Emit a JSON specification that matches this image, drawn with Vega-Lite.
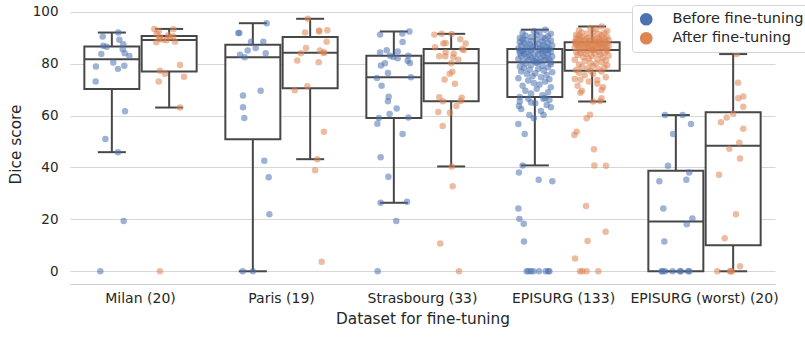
{
"$schema": "https://vega.github.io/schema/vega-lite/v6.json",
"width": 705, "height": 280,
"autosize": {"type": "none"},
"padding": {"left": 70, "top": 4, "right": 30, "bottom": 54},
"background": "white",
"config": {"view": {"stroke": null}, "font": "DejaVu Sans"},
"datasets": {
"d": [
{"g":"Milan (20)","h":"Before fine-tuning","v":92.0,"p":-0.157},
{"g":"Milan (20)","h":"Before fine-tuning","v":90.5,"p":-0.268},
{"g":"Milan (20)","h":"Before fine-tuning","v":89.2,"p":-0.150},
{"g":"Milan (20)","h":"Before fine-tuning","v":87.5,"p":-0.122},
{"g":"Milan (20)","h":"Before fine-tuning","v":86.9,"p":-0.264},
{"g":"Milan (20)","h":"Before fine-tuning","v":86.5,"p":-0.240},
{"g":"Milan (20)","h":"Before fine-tuning","v":85.6,"p":-0.126},
{"g":"Milan (20)","h":"Before fine-tuning","v":84.0,"p":-0.112},
{"g":"Milan (20)","h":"Before fine-tuning","v":83.7,"p":-0.278},
{"g":"Milan (20)","h":"Before fine-tuning","v":83.0,"p":-0.079},
{"g":"Milan (20)","h":"Before fine-tuning","v":80.5,"p":-0.193},
{"g":"Milan (20)","h":"Before fine-tuning","v":79.2,"p":-0.115},
{"g":"Milan (20)","h":"Before fine-tuning","v":78.9,"p":-0.316},
{"g":"Milan (20)","h":"Before fine-tuning","v":78.0,"p":-0.160},
{"g":"Milan (20)","h":"Before fine-tuning","v":73.1,"p":-0.318},
{"g":"Milan (20)","h":"Before fine-tuning","v":61.7,"p":-0.110},
{"g":"Milan (20)","h":"Before fine-tuning","v":51.0,"p":-0.249},
{"g":"Milan (20)","h":"Before fine-tuning","v":45.9,"p":-0.160},
{"g":"Milan (20)","h":"Before fine-tuning","v":19.4,"p":-0.119},
{"g":"Milan (20)","h":"Before fine-tuning","v":0,"p":-0.285},
{"g":"Milan (20)","h":"After fine-tuning","v":93.4,"p":0.098},
{"g":"Milan (20)","h":"After fine-tuning","v":93.3,"p":0.233},
{"g":"Milan (20)","h":"After fine-tuning","v":92.5,"p":0.129},
{"g":"Milan (20)","h":"After fine-tuning","v":91.5,"p":0.115},
{"g":"Milan (20)","h":"After fine-tuning","v":91.0,"p":0.197},
{"g":"Milan (20)","h":"After fine-tuning","v":90.5,"p":0.233},
{"g":"Milan (20)","h":"After fine-tuning","v":90.3,"p":0.138},
{"g":"Milan (20)","h":"After fine-tuning","v":90.2,"p":0.209},
{"g":"Milan (20)","h":"After fine-tuning","v":89.5,"p":0.131},
{"g":"Milan (20)","h":"After fine-tuning","v":89.2,"p":0.160},
{"g":"Milan (20)","h":"After fine-tuning","v":89.0,"p":0.185},
{"g":"Milan (20)","h":"After fine-tuning","v":88.5,"p":0.245},
{"g":"Milan (20)","h":"After fine-tuning","v":88.3,"p":0.112},
{"g":"Milan (20)","h":"After fine-tuning","v":79.5,"p":0.280},
{"g":"Milan (20)","h":"After fine-tuning","v":77.3,"p":0.138},
{"g":"Milan (20)","h":"After fine-tuning","v":76.1,"p":0.174},
{"g":"Milan (20)","h":"After fine-tuning","v":75.0,"p":0.309},
{"g":"Milan (20)","h":"After fine-tuning","v":73.1,"p":0.129},
{"g":"Milan (20)","h":"After fine-tuning","v":63.1,"p":0.280},
{"g":"Milan (20)","h":"After fine-tuning","v":0,"p":0.138},
{"g":"Paris (19)","h":"Before fine-tuning","v":95.6,"p":0.895},
{"g":"Paris (19)","h":"Before fine-tuning","v":91.8,"p":0.694},
{"g":"Paris (19)","h":"Before fine-tuning","v":91.8,"p":0.701},
{"g":"Paris (19)","h":"Before fine-tuning","v":88.5,"p":0.784},
{"g":"Paris (19)","h":"Before fine-tuning","v":88.5,"p":0.871},
{"g":"Paris (19)","h":"Before fine-tuning","v":86.0,"p":0.817},
{"g":"Paris (19)","h":"Before fine-tuning","v":85.1,"p":0.760},
{"g":"Paris (19)","h":"Before fine-tuning","v":84.0,"p":0.888},
{"g":"Paris (19)","h":"Before fine-tuning","v":83.4,"p":0.706},
{"g":"Paris (19)","h":"Before fine-tuning","v":82.5,"p":0.739},
{"g":"Paris (19)","h":"Before fine-tuning","v":69.6,"p":0.852},
{"g":"Paris (19)","h":"Before fine-tuning","v":67.7,"p":0.727},
{"g":"Paris (19)","h":"Before fine-tuning","v":63.2,"p":0.727},
{"g":"Paris (19)","h":"Before fine-tuning","v":59.1,"p":0.736},
{"g":"Paris (19)","h":"Before fine-tuning","v":42.6,"p":0.878},
{"g":"Paris (19)","h":"Before fine-tuning","v":36.2,"p":0.909},
{"g":"Paris (19)","h":"Before fine-tuning","v":22.0,"p":0.914},
{"g":"Paris (19)","h":"Before fine-tuning","v":0,"p":0.725},
{"g":"Paris (19)","h":"Before fine-tuning","v":0,"p":0.798},
{"g":"Paris (19)","h":"After fine-tuning","v":97.3,"p":1.186},
{"g":"Paris (19)","h":"After fine-tuning","v":92.0,"p":1.167},
{"g":"Paris (19)","h":"After fine-tuning","v":92.8,"p":1.266},
{"g":"Paris (19)","h":"After fine-tuning","v":92.4,"p":1.268},
{"g":"Paris (19)","h":"After fine-tuning","v":92.9,"p":1.325},
{"g":"Paris (19)","h":"After fine-tuning","v":88.5,"p":1.320},
{"g":"Paris (19)","h":"After fine-tuning","v":86.0,"p":1.174},
{"g":"Paris (19)","h":"After fine-tuning","v":84.0,"p":1.138},
{"g":"Paris (19)","h":"After fine-tuning","v":85.1,"p":1.273},
{"g":"Paris (19)","h":"After fine-tuning","v":84.3,"p":1.304},
{"g":"Paris (19)","h":"After fine-tuning","v":81.2,"p":1.112},
{"g":"Paris (19)","h":"After fine-tuning","v":80.6,"p":1.264},
{"g":"Paris (19)","h":"After fine-tuning","v":69.8,"p":1.094},
{"g":"Paris (19)","h":"After fine-tuning","v":71.3,"p":1.183},
{"g":"Paris (19)","h":"After fine-tuning","v":53.8,"p":1.301},
{"g":"Paris (19)","h":"After fine-tuning","v":43.2,"p":1.254},
{"g":"Paris (19)","h":"After fine-tuning","v":38.9,"p":1.238},
{"g":"Paris (19)","h":"After fine-tuning","v":3.7,"p":1.285},
{"g":"Paris (19)","h":"After fine-tuning","v":84.2,"p":1.297},
{"g":"Strasbourg (33)","h":"Before fine-tuning","v":91.2,"p":1.699},
{"g":"Strasbourg (33)","h":"Before fine-tuning","v":91.6,"p":1.857},
{"g":"Strasbourg (33)","h":"Before fine-tuning","v":92.4,"p":1.907},
{"g":"Strasbourg (33)","h":"Before fine-tuning","v":88.4,"p":1.859},
{"g":"Strasbourg (33)","h":"Before fine-tuning","v":84.3,"p":1.699},
{"g":"Strasbourg (33)","h":"Before fine-tuning","v":85.2,"p":1.746},
{"g":"Strasbourg (33)","h":"Before fine-tuning","v":84.7,"p":1.824},
{"g":"Strasbourg (33)","h":"Before fine-tuning","v":83.1,"p":1.770},
{"g":"Strasbourg (33)","h":"Before fine-tuning","v":82.6,"p":1.793},
{"g":"Strasbourg (33)","h":"Before fine-tuning","v":82.1,"p":1.824},
{"g":"Strasbourg (33)","h":"Before fine-tuning","v":83.1,"p":1.900},
{"g":"Strasbourg (33)","h":"Before fine-tuning","v":81.1,"p":1.895},
{"g":"Strasbourg (33)","h":"Before fine-tuning","v":80.3,"p":1.911},
{"g":"Strasbourg (33)","h":"Before fine-tuning","v":80.2,"p":1.734},
{"g":"Strasbourg (33)","h":"Before fine-tuning","v":79.3,"p":1.705},
{"g":"Strasbourg (33)","h":"Before fine-tuning","v":76.4,"p":1.755},
{"g":"Strasbourg (33)","h":"Before fine-tuning","v":74.5,"p":1.677},
{"g":"Strasbourg (33)","h":"Before fine-tuning","v":74.8,"p":1.918},
{"g":"Strasbourg (33)","h":"Before fine-tuning","v":71.5,"p":1.710},
{"g":"Strasbourg (33)","h":"Before fine-tuning","v":67.3,"p":1.760},
{"g":"Strasbourg (33)","h":"Before fine-tuning","v":65.5,"p":1.755},
{"g":"Strasbourg (33)","h":"Before fine-tuning","v":62.7,"p":1.817},
{"g":"Strasbourg (33)","h":"Before fine-tuning","v":60.6,"p":1.767},
{"g":"Strasbourg (33)","h":"Before fine-tuning","v":59.1,"p":1.691},
{"g":"Strasbourg (33)","h":"Before fine-tuning","v":59.3,"p":1.900},
{"g":"Strasbourg (33)","h":"Before fine-tuning","v":56.9,"p":1.680},
{"g":"Strasbourg (33)","h":"Before fine-tuning","v":52.9,"p":1.859},
{"g":"Strasbourg (33)","h":"Before fine-tuning","v":43.9,"p":1.703},
{"g":"Strasbourg (33)","h":"Before fine-tuning","v":36.4,"p":1.758},
{"g":"Strasbourg (33)","h":"Before fine-tuning","v":26.4,"p":1.703},
{"g":"Strasbourg (33)","h":"Before fine-tuning","v":26.8,"p":1.890},
{"g":"Strasbourg (33)","h":"Before fine-tuning","v":19.4,"p":1.814},
{"g":"Strasbourg (33)","h":"Before fine-tuning","v":0,"p":1.682},
{"g":"Strasbourg (33)","h":"After fine-tuning","v":91.2,"p":2.084},
{"g":"Strasbourg (33)","h":"After fine-tuning","v":91.5,"p":2.136},
{"g":"Strasbourg (33)","h":"After fine-tuning","v":91.4,"p":2.207},
{"g":"Strasbourg (33)","h":"After fine-tuning","v":89.4,"p":2.268},
{"g":"Strasbourg (33)","h":"After fine-tuning","v":87.8,"p":2.306},
{"g":"Strasbourg (33)","h":"After fine-tuning","v":87.8,"p":2.148},
{"g":"Strasbourg (33)","h":"After fine-tuning","v":88.0,"p":2.164},
{"g":"Strasbourg (33)","h":"After fine-tuning","v":86.3,"p":2.089},
{"g":"Strasbourg (33)","h":"After fine-tuning","v":85.3,"p":2.292},
{"g":"Strasbourg (33)","h":"After fine-tuning","v":85.7,"p":2.282},
{"g":"Strasbourg (33)","h":"After fine-tuning","v":84.4,"p":2.164},
{"g":"Strasbourg (33)","h":"After fine-tuning","v":83.9,"p":2.221},
{"g":"Strasbourg (33)","h":"After fine-tuning","v":82.9,"p":2.119},
{"g":"Strasbourg (33)","h":"After fine-tuning","v":82.9,"p":2.162},
{"g":"Strasbourg (33)","h":"After fine-tuning","v":82.5,"p":2.219},
{"g":"Strasbourg (33)","h":"After fine-tuning","v":81.5,"p":2.254},
{"g":"Strasbourg (33)","h":"After fine-tuning","v":80.2,"p":2.204},
{"g":"Strasbourg (33)","h":"After fine-tuning","v":76.9,"p":2.212},
{"g":"Strasbourg (33)","h":"After fine-tuning","v":76.1,"p":2.193},
{"g":"Strasbourg (33)","h":"After fine-tuning","v":73.9,"p":2.157},
{"g":"Strasbourg (33)","h":"After fine-tuning","v":72.3,"p":2.230},
{"g":"Strasbourg (33)","h":"After fine-tuning","v":67.1,"p":2.119},
{"g":"Strasbourg (33)","h":"After fine-tuning","v":65.5,"p":2.145},
{"g":"Strasbourg (33)","h":"After fine-tuning","v":66.9,"p":2.278},
{"g":"Strasbourg (33)","h":"After fine-tuning","v":65.6,"p":2.270},
{"g":"Strasbourg (33)","h":"After fine-tuning","v":63.7,"p":2.240},
{"g":"Strasbourg (33)","h":"After fine-tuning","v":61.4,"p":2.112},
{"g":"Strasbourg (33)","h":"After fine-tuning","v":61.1,"p":2.195},
{"g":"Strasbourg (33)","h":"After fine-tuning","v":56.0,"p":2.143},
{"g":"Strasbourg (33)","h":"After fine-tuning","v":40.4,"p":2.207},
{"g":"Strasbourg (33)","h":"After fine-tuning","v":32.8,"p":2.214},
{"g":"Strasbourg (33)","h":"After fine-tuning","v":10.7,"p":2.126},
{"g":"Strasbourg (33)","h":"After fine-tuning","v":0,"p":2.259},
{"g":"EPISURG (133)","h":"Before fine-tuning","v":0,"p":2.739},
{"g":"EPISURG (133)","h":"Before fine-tuning","v":0,"p":2.751},
{"g":"EPISURG (133)","h":"Before fine-tuning","v":0,"p":2.770},
{"g":"EPISURG (133)","h":"Before fine-tuning","v":0,"p":2.786},
{"g":"EPISURG (133)","h":"Before fine-tuning","v":0,"p":2.826},
{"g":"EPISURG (133)","h":"Before fine-tuning","v":0,"p":2.874},
{"g":"EPISURG (133)","h":"Before fine-tuning","v":0,"p":2.892},
{"g":"EPISURG (133)","h":"Before fine-tuning","v":0,"p":2.900},
{"g":"EPISURG (133)","h":"Before fine-tuning","v":11.5,"p":2.720},
{"g":"EPISURG (133)","h":"Before fine-tuning","v":18.3,"p":2.718},
{"g":"EPISURG (133)","h":"Before fine-tuning","v":20.2,"p":2.687},
{"g":"EPISURG (133)","h":"Before fine-tuning","v":24.2,"p":2.680},
{"g":"EPISURG (133)","h":"Before fine-tuning","v":34.7,"p":2.921},
{"g":"EPISURG (133)","h":"Before fine-tuning","v":35.3,"p":2.824},
{"g":"EPISURG (133)","h":"Before fine-tuning","v":38.1,"p":2.684},
{"g":"EPISURG (133)","h":"Before fine-tuning","v":40.8,"p":2.710},
{"g":"EPISURG (133)","h":"Before fine-tuning","v":52.9,"p":2.725},
{"g":"EPISURG (133)","h":"Before fine-tuning","v":56.8,"p":2.680},
{"g":"EPISURG (133)","h":"Before fine-tuning","v":60.2,"p":2.758},
{"g":"EPISURG (133)","h":"Before fine-tuning","v":60.2,"p":2.859},
{"g":"EPISURG (133)","h":"Before fine-tuning","v":63.2,"p":2.911},
{"g":"EPISURG (133)","h":"Before fine-tuning","v":63.7,"p":2.684},
{"g":"EPISURG (133)","h":"Before fine-tuning","v":64.1,"p":2.881},
{"g":"EPISURG (133)","h":"Before fine-tuning","v":65.4,"p":2.690},
{"g":"EPISURG (133)","h":"Before fine-tuning","v":66.0,"p":2.900},
{"g":"EPISURG (133)","h":"Before fine-tuning","v":66.5,"p":2.751},
{"g":"EPISURG (133)","h":"Before fine-tuning","v":66.5,"p":2.857},
{"g":"EPISURG (133)","h":"Before fine-tuning","v":59.0,"p":2.79},
{"g":"EPISURG (133)","h":"Before fine-tuning","v":61.8,"p":2.84},
{"g":"EPISURG (133)","h":"Before fine-tuning","v":62.5,"p":2.70},
{"g":"EPISURG (133)","h":"Before fine-tuning","v":64.8,"p":2.80},
{"g":"EPISURG (133)","h":"Before fine-tuning","v":65.0,"p":2.77},
{"g":"EPISURG (133)","h":"Before fine-tuning","v":66.8,"p":2.87},
{"g":"EPISURG (133)","h":"Before fine-tuning","v":67.2,"p":2.69},
{"g":"EPISURG (133)","h":"Before fine-tuning","v":67.8,"p":2.85},
{"g":"EPISURG (133)","h":"Before fine-tuning","v":68.5,"p":2.77},
{"g":"EPISURG (133)","h":"Before fine-tuning","v":69.0,"p":2.89},
{"g":"EPISURG (133)","h":"Before fine-tuning","v":69.6,"p":2.73},
{"g":"EPISURG (133)","h":"Before fine-tuning","v":70.3,"p":2.81},
{"g":"EPISURG (133)","h":"Before fine-tuning","v":70.9,"p":2.91},
{"g":"EPISURG (133)","h":"Before fine-tuning","v":71.5,"p":2.71},
{"g":"EPISURG (133)","h":"Before fine-tuning","v":72.0,"p":2.83},
{"g":"EPISURG (133)","h":"Before fine-tuning","v":72.6,"p":2.79},
{"g":"EPISURG (133)","h":"Before fine-tuning","v":73.1,"p":2.87},
{"g":"EPISURG (133)","h":"Before fine-tuning","v":73.5,"p":2.75},
{"g":"EPISURG (133)","h":"Before fine-tuning","v":74.0,"p":2.90},
{"g":"EPISURG (133)","h":"Before fine-tuning","v":74.4,"p":2.68},
{"g":"EPISURG (133)","h":"Before fine-tuning","v":74.8,"p":2.84},
{"g":"EPISURG (133)","h":"Before fine-tuning","v":75.2,"p":2.78},
{"g":"EPISURG (133)","h":"Before fine-tuning","v":75.6,"p":2.88},
{"g":"EPISURG (133)","h":"Before fine-tuning","v":76.0,"p":2.74},
{"g":"EPISURG (133)","h":"Before fine-tuning","v":76.3,"p":2.80},
{"g":"EPISURG (133)","h":"Before fine-tuning","v":76.7,"p":2.92},
{"g":"EPISURG (133)","h":"Before fine-tuning","v":77.0,"p":2.70},
{"g":"EPISURG (133)","h":"Before fine-tuning","v":77.4,"p":2.86},
{"g":"EPISURG (133)","h":"Before fine-tuning","v":77.7,"p":2.76},
{"g":"EPISURG (133)","h":"Before fine-tuning","v":78.0,"p":2.82},
{"g":"EPISURG (133)","h":"Before fine-tuning","v":78.3,"p":2.72},
{"g":"EPISURG (133)","h":"Before fine-tuning","v":78.6,"p":2.89},
{"g":"EPISURG (133)","h":"Before fine-tuning","v":78.9,"p":2.69},
{"g":"EPISURG (133)","h":"Before fine-tuning","v":79.2,"p":2.85},
{"g":"EPISURG (133)","h":"Before fine-tuning","v":79.5,"p":2.77},
{"g":"EPISURG (133)","h":"Before fine-tuning","v":79.8,"p":2.91},
{"g":"EPISURG (133)","h":"Before fine-tuning","v":80.1,"p":2.73},
{"g":"EPISURG (133)","h":"Before fine-tuning","v":80.4,"p":2.81},
{"g":"EPISURG (133)","h":"Before fine-tuning","v":80.5,"p":2.81},
{"g":"EPISURG (133)","h":"Before fine-tuning","v":80.6,"p":2.91},
{"g":"EPISURG (133)","h":"Before fine-tuning","v":80.8,"p":2.71},
{"g":"EPISURG (133)","h":"Before fine-tuning","v":80.9,"p":2.83},
{"g":"EPISURG (133)","h":"Before fine-tuning","v":81.1,"p":2.79},
{"g":"EPISURG (133)","h":"Before fine-tuning","v":81.3,"p":2.87},
{"g":"EPISURG (133)","h":"Before fine-tuning","v":81.4,"p":2.75},
{"g":"EPISURG (133)","h":"Before fine-tuning","v":81.6,"p":2.90},
{"g":"EPISURG (133)","h":"Before fine-tuning","v":81.8,"p":2.68},
{"g":"EPISURG (133)","h":"Before fine-tuning","v":82.0,"p":2.84},
{"g":"EPISURG (133)","h":"Before fine-tuning","v":82.1,"p":2.78},
{"g":"EPISURG (133)","h":"Before fine-tuning","v":82.3,"p":2.88},
{"g":"EPISURG (133)","h":"Before fine-tuning","v":82.5,"p":2.74},
{"g":"EPISURG (133)","h":"Before fine-tuning","v":82.6,"p":2.80},
{"g":"EPISURG (133)","h":"Before fine-tuning","v":82.8,"p":2.92},
{"g":"EPISURG (133)","h":"Before fine-tuning","v":83.0,"p":2.70},
{"g":"EPISURG (133)","h":"Before fine-tuning","v":83.1,"p":2.86},
{"g":"EPISURG (133)","h":"Before fine-tuning","v":83.3,"p":2.76},
{"g":"EPISURG (133)","h":"Before fine-tuning","v":83.5,"p":2.82},
{"g":"EPISURG (133)","h":"Before fine-tuning","v":83.6,"p":2.72},
{"g":"EPISURG (133)","h":"Before fine-tuning","v":83.8,"p":2.89},
{"g":"EPISURG (133)","h":"Before fine-tuning","v":84.0,"p":2.69},
{"g":"EPISURG (133)","h":"Before fine-tuning","v":84.1,"p":2.85},
{"g":"EPISURG (133)","h":"Before fine-tuning","v":84.3,"p":2.77},
{"g":"EPISURG (133)","h":"Before fine-tuning","v":84.5,"p":2.91},
{"g":"EPISURG (133)","h":"Before fine-tuning","v":84.6,"p":2.73},
{"g":"EPISURG (133)","h":"Before fine-tuning","v":84.8,"p":2.81},
{"g":"EPISURG (133)","h":"Before fine-tuning","v":84.9,"p":2.71},
{"g":"EPISURG (133)","h":"Before fine-tuning","v":85.0,"p":2.87},
{"g":"EPISURG (133)","h":"Before fine-tuning","v":85.1,"p":2.69},
{"g":"EPISURG (133)","h":"Before fine-tuning","v":85.2,"p":2.85},
{"g":"EPISURG (133)","h":"Before fine-tuning","v":85.3,"p":2.77},
{"g":"EPISURG (133)","h":"Before fine-tuning","v":85.4,"p":2.89},
{"g":"EPISURG (133)","h":"Before fine-tuning","v":85.6,"p":2.73},
{"g":"EPISURG (133)","h":"Before fine-tuning","v":85.7,"p":2.83},
{"g":"EPISURG (133)","h":"Before fine-tuning","v":85.8,"p":2.90},
{"g":"EPISURG (133)","h":"Before fine-tuning","v":85.9,"p":2.68},
{"g":"EPISURG (133)","h":"Before fine-tuning","v":86.1,"p":2.84},
{"g":"EPISURG (133)","h":"Before fine-tuning","v":86.3,"p":2.78},
{"g":"EPISURG (133)","h":"Before fine-tuning","v":86.4,"p":2.88},
{"g":"EPISURG (133)","h":"Before fine-tuning","v":86.6,"p":2.74},
{"g":"EPISURG (133)","h":"Before fine-tuning","v":86.8,"p":2.80},
{"g":"EPISURG (133)","h":"Before fine-tuning","v":87.0,"p":2.92},
{"g":"EPISURG (133)","h":"Before fine-tuning","v":87.1,"p":2.70},
{"g":"EPISURG (133)","h":"Before fine-tuning","v":87.3,"p":2.86},
{"g":"EPISURG (133)","h":"Before fine-tuning","v":87.5,"p":2.76},
{"g":"EPISURG (133)","h":"Before fine-tuning","v":87.7,"p":2.82},
{"g":"EPISURG (133)","h":"Before fine-tuning","v":87.9,"p":2.72},
{"g":"EPISURG (133)","h":"Before fine-tuning","v":88.1,"p":2.89},
{"g":"EPISURG (133)","h":"Before fine-tuning","v":88.3,"p":2.69},
{"g":"EPISURG (133)","h":"Before fine-tuning","v":88.5,"p":2.85},
{"g":"EPISURG (133)","h":"Before fine-tuning","v":88.7,"p":2.77},
{"g":"EPISURG (133)","h":"Before fine-tuning","v":88.9,"p":2.91},
{"g":"EPISURG (133)","h":"Before fine-tuning","v":89.1,"p":2.73},
{"g":"EPISURG (133)","h":"Before fine-tuning","v":89.3,"p":2.81},
{"g":"EPISURG (133)","h":"Before fine-tuning","v":89.5,"p":2.71},
{"g":"EPISURG (133)","h":"Before fine-tuning","v":89.7,"p":2.87},
{"g":"EPISURG (133)","h":"Before fine-tuning","v":89.9,"p":2.69},
{"g":"EPISURG (133)","h":"Before fine-tuning","v":90.1,"p":2.85},
{"g":"EPISURG (133)","h":"Before fine-tuning","v":90.3,"p":2.77},
{"g":"EPISURG (133)","h":"Before fine-tuning","v":90.6,"p":2.89},
{"g":"EPISURG (133)","h":"Before fine-tuning","v":90.9,"p":2.73},
{"g":"EPISURG (133)","h":"Before fine-tuning","v":91.2,"p":2.81},
{"g":"EPISURG (133)","h":"Before fine-tuning","v":91.5,"p":2.91},
{"g":"EPISURG (133)","h":"Before fine-tuning","v":91.8,"p":2.71},
{"g":"EPISURG (133)","h":"Before fine-tuning","v":92.2,"p":2.83},
{"g":"EPISURG (133)","h":"Before fine-tuning","v":92.6,"p":2.79},
{"g":"EPISURG (133)","h":"Before fine-tuning","v":93.1,"p":2.87},
{"g":"EPISURG (133)","h":"After fine-tuning","v":60.3,"p":3.188},
{"g":"EPISURG (133)","h":"After fine-tuning","v":59.0,"p":3.164},
{"g":"EPISURG (133)","h":"After fine-tuning","v":53.8,"p":3.093},
{"g":"EPISURG (133)","h":"After fine-tuning","v":52.5,"p":3.077},
{"g":"EPISURG (133)","h":"After fine-tuning","v":47.0,"p":3.216},
{"g":"EPISURG (133)","h":"After fine-tuning","v":40.8,"p":3.219},
{"g":"EPISURG (133)","h":"After fine-tuning","v":40.7,"p":3.301},
{"g":"EPISURG (133)","h":"After fine-tuning","v":25.2,"p":3.160},
{"g":"EPISURG (133)","h":"After fine-tuning","v":15.2,"p":3.299},
{"g":"EPISURG (133)","h":"After fine-tuning","v":11.7,"p":3.171},
{"g":"EPISURG (133)","h":"After fine-tuning","v":4.9,"p":3.082},
{"g":"EPISURG (133)","h":"After fine-tuning","v":0,"p":3.117},
{"g":"EPISURG (133)","h":"After fine-tuning","v":0,"p":3.134},
{"g":"EPISURG (133)","h":"After fine-tuning","v":0,"p":3.164},
{"g":"EPISURG (133)","h":"After fine-tuning","v":0,"p":3.247},
{"g":"EPISURG (133)","h":"After fine-tuning","v":65.4,"p":3.21},
{"g":"EPISURG (133)","h":"After fine-tuning","v":65.6,"p":3.26},
{"g":"EPISURG (133)","h":"After fine-tuning","v":66.7,"p":3.27},
{"g":"EPISURG (133)","h":"After fine-tuning","v":68.8,"p":3.12},
{"g":"EPISURG (133)","h":"After fine-tuning","v":69.6,"p":3.13},
{"g":"EPISURG (133)","h":"After fine-tuning","v":69.9,"p":3.27},
{"g":"EPISURG (133)","h":"After fine-tuning","v":70.9,"p":3.28},
{"g":"EPISURG (133)","h":"After fine-tuning","v":71.5,"p":3.10},
{"g":"EPISURG (133)","h":"After fine-tuning","v":72.3,"p":3.24},
{"g":"EPISURG (133)","h":"After fine-tuning","v":73.1,"p":3.18},
{"g":"EPISURG (133)","h":"After fine-tuning","v":73.7,"p":3.24},
{"g":"EPISURG (133)","h":"After fine-tuning","v":73.8,"p":3.12},
{"g":"EPISURG (133)","h":"After fine-tuning","v":74.1,"p":3.08},
{"g":"EPISURG (133)","h":"After fine-tuning","v":74.8,"p":3.30},
{"g":"EPISURG (133)","h":"After fine-tuning","v":75.5,"p":3.15},
{"g":"EPISURG (133)","h":"After fine-tuning","v":76.0,"p":3.21},
{"g":"EPISURG (133)","h":"After fine-tuning","v":76.5,"p":3.11},
{"g":"EPISURG (133)","h":"After fine-tuning","v":77.0,"p":3.27},
{"g":"EPISURG (133)","h":"After fine-tuning","v":77.3,"p":3.19},
{"g":"EPISURG (133)","h":"After fine-tuning","v":77.6,"p":3.09},
{"g":"EPISURG (133)","h":"After fine-tuning","v":77.9,"p":3.25},
{"g":"EPISURG (133)","h":"After fine-tuning","v":78.2,"p":3.17},
{"g":"EPISURG (133)","h":"After fine-tuning","v":78.5,"p":3.29},
{"g":"EPISURG (133)","h":"After fine-tuning","v":78.8,"p":3.13},
{"g":"EPISURG (133)","h":"After fine-tuning","v":79.1,"p":3.21},
{"g":"EPISURG (133)","h":"After fine-tuning","v":79.4,"p":3.31},
{"g":"EPISURG (133)","h":"After fine-tuning","v":79.7,"p":3.11},
{"g":"EPISURG (133)","h":"After fine-tuning","v":80.0,"p":3.23},
{"g":"EPISURG (133)","h":"After fine-tuning","v":80.3,"p":3.19},
{"g":"EPISURG (133)","h":"After fine-tuning","v":80.6,"p":3.27},
{"g":"EPISURG (133)","h":"After fine-tuning","v":80.9,"p":3.15},
{"g":"EPISURG (133)","h":"After fine-tuning","v":81.2,"p":3.30},
{"g":"EPISURG (133)","h":"After fine-tuning","v":81.5,"p":3.08},
{"g":"EPISURG (133)","h":"After fine-tuning","v":81.8,"p":3.24},
{"g":"EPISURG (133)","h":"After fine-tuning","v":82.1,"p":3.18},
{"g":"EPISURG (133)","h":"After fine-tuning","v":82.4,"p":3.28},
{"g":"EPISURG (133)","h":"After fine-tuning","v":82.6,"p":3.14},
{"g":"EPISURG (133)","h":"After fine-tuning","v":82.9,"p":3.20},
{"g":"EPISURG (133)","h":"After fine-tuning","v":83.1,"p":3.32},
{"g":"EPISURG (133)","h":"After fine-tuning","v":83.3,"p":3.10},
{"g":"EPISURG (133)","h":"After fine-tuning","v":83.5,"p":3.26},
{"g":"EPISURG (133)","h":"After fine-tuning","v":83.7,"p":3.16},
{"g":"EPISURG (133)","h":"After fine-tuning","v":83.9,"p":3.22},
{"g":"EPISURG (133)","h":"After fine-tuning","v":84.1,"p":3.12},
{"g":"EPISURG (133)","h":"After fine-tuning","v":84.3,"p":3.29},
{"g":"EPISURG (133)","h":"After fine-tuning","v":84.5,"p":3.09},
{"g":"EPISURG (133)","h":"After fine-tuning","v":84.6,"p":3.25},
{"g":"EPISURG (133)","h":"After fine-tuning","v":84.8,"p":3.17},
{"g":"EPISURG (133)","h":"After fine-tuning","v":84.9,"p":3.31},
{"g":"EPISURG (133)","h":"After fine-tuning","v":85.1,"p":3.13},
{"g":"EPISURG (133)","h":"After fine-tuning","v":85.2,"p":3.21},
{"g":"EPISURG (133)","h":"After fine-tuning","v":85.3,"p":3.20},
{"g":"EPISURG (133)","h":"After fine-tuning","v":85.4,"p":3.21},
{"g":"EPISURG (133)","h":"After fine-tuning","v":85.5,"p":3.31},
{"g":"EPISURG (133)","h":"After fine-tuning","v":85.6,"p":3.11},
{"g":"EPISURG (133)","h":"After fine-tuning","v":85.7,"p":3.23},
{"g":"EPISURG (133)","h":"After fine-tuning","v":85.8,"p":3.19},
{"g":"EPISURG (133)","h":"After fine-tuning","v":85.9,"p":3.27},
{"g":"EPISURG (133)","h":"After fine-tuning","v":86.0,"p":3.15},
{"g":"EPISURG (133)","h":"After fine-tuning","v":86.1,"p":3.30},
{"g":"EPISURG (133)","h":"After fine-tuning","v":86.2,"p":3.08},
{"g":"EPISURG (133)","h":"After fine-tuning","v":86.3,"p":3.24},
{"g":"EPISURG (133)","h":"After fine-tuning","v":86.4,"p":3.18},
{"g":"EPISURG (133)","h":"After fine-tuning","v":86.5,"p":3.28},
{"g":"EPISURG (133)","h":"After fine-tuning","v":86.6,"p":3.14},
{"g":"EPISURG (133)","h":"After fine-tuning","v":86.7,"p":3.20},
{"g":"EPISURG (133)","h":"After fine-tuning","v":86.8,"p":3.32},
{"g":"EPISURG (133)","h":"After fine-tuning","v":86.9,"p":3.10},
{"g":"EPISURG (133)","h":"After fine-tuning","v":87.0,"p":3.26},
{"g":"EPISURG (133)","h":"After fine-tuning","v":87.1,"p":3.16},
{"g":"EPISURG (133)","h":"After fine-tuning","v":87.2,"p":3.22},
{"g":"EPISURG (133)","h":"After fine-tuning","v":87.3,"p":3.12},
{"g":"EPISURG (133)","h":"After fine-tuning","v":87.4,"p":3.29},
{"g":"EPISURG (133)","h":"After fine-tuning","v":87.5,"p":3.09},
{"g":"EPISURG (133)","h":"After fine-tuning","v":87.6,"p":3.25},
{"g":"EPISURG (133)","h":"After fine-tuning","v":87.7,"p":3.17},
{"g":"EPISURG (133)","h":"After fine-tuning","v":87.8,"p":3.31},
{"g":"EPISURG (133)","h":"After fine-tuning","v":87.9,"p":3.13},
{"g":"EPISURG (133)","h":"After fine-tuning","v":88.0,"p":3.21},
{"g":"EPISURG (133)","h":"After fine-tuning","v":88.0,"p":3.11},
{"g":"EPISURG (133)","h":"After fine-tuning","v":88.1,"p":3.27},
{"g":"EPISURG (133)","h":"After fine-tuning","v":88.1,"p":3.09},
{"g":"EPISURG (133)","h":"After fine-tuning","v":88.2,"p":3.25},
{"g":"EPISURG (133)","h":"After fine-tuning","v":88.2,"p":3.17},
{"g":"EPISURG (133)","h":"After fine-tuning","v":88.3,"p":3.23},
{"g":"EPISURG (133)","h":"After fine-tuning","v":88.4,"p":3.30},
{"g":"EPISURG (133)","h":"After fine-tuning","v":88.5,"p":3.08},
{"g":"EPISURG (133)","h":"After fine-tuning","v":88.6,"p":3.24},
{"g":"EPISURG (133)","h":"After fine-tuning","v":88.7,"p":3.18},
{"g":"EPISURG (133)","h":"After fine-tuning","v":88.8,"p":3.28},
{"g":"EPISURG (133)","h":"After fine-tuning","v":88.9,"p":3.14},
{"g":"EPISURG (133)","h":"After fine-tuning","v":89.0,"p":3.20},
{"g":"EPISURG (133)","h":"After fine-tuning","v":89.1,"p":3.32},
{"g":"EPISURG (133)","h":"After fine-tuning","v":89.2,"p":3.10},
{"g":"EPISURG (133)","h":"After fine-tuning","v":89.3,"p":3.26},
{"g":"EPISURG (133)","h":"After fine-tuning","v":89.4,"p":3.16},
{"g":"EPISURG (133)","h":"After fine-tuning","v":89.5,"p":3.22},
{"g":"EPISURG (133)","h":"After fine-tuning","v":89.6,"p":3.12},
{"g":"EPISURG (133)","h":"After fine-tuning","v":89.7,"p":3.29},
{"g":"EPISURG (133)","h":"After fine-tuning","v":89.8,"p":3.09},
{"g":"EPISURG (133)","h":"After fine-tuning","v":89.9,"p":3.25},
{"g":"EPISURG (133)","h":"After fine-tuning","v":90.0,"p":3.17},
{"g":"EPISURG (133)","h":"After fine-tuning","v":90.2,"p":3.31},
{"g":"EPISURG (133)","h":"After fine-tuning","v":90.4,"p":3.13},
{"g":"EPISURG (133)","h":"After fine-tuning","v":90.6,"p":3.21},
{"g":"EPISURG (133)","h":"After fine-tuning","v":90.8,"p":3.11},
{"g":"EPISURG (133)","h":"After fine-tuning","v":91.0,"p":3.27},
{"g":"EPISURG (133)","h":"After fine-tuning","v":91.2,"p":3.09},
{"g":"EPISURG (133)","h":"After fine-tuning","v":91.4,"p":3.25},
{"g":"EPISURG (133)","h":"After fine-tuning","v":91.6,"p":3.17},
{"g":"EPISURG (133)","h":"After fine-tuning","v":91.8,"p":3.29},
{"g":"EPISURG (133)","h":"After fine-tuning","v":92.0,"p":3.13},
{"g":"EPISURG (133)","h":"After fine-tuning","v":92.3,"p":3.21},
{"g":"EPISURG (133)","h":"After fine-tuning","v":92.6,"p":3.31},
{"g":"EPISURG (133)","h":"After fine-tuning","v":92.9,"p":3.11},
{"g":"EPISURG (133)","h":"After fine-tuning","v":93.3,"p":3.23},
{"g":"EPISURG (133)","h":"After fine-tuning","v":93.8,"p":3.19},
{"g":"EPISURG (133)","h":"After fine-tuning","v":94.3,"p":3.27},
{"g":"EPISURG (worst) (20)","h":"Before fine-tuning","v":60.2,"p":3.720},
{"g":"EPISURG (worst) (20)","h":"Before fine-tuning","v":60.2,"p":3.845},
{"g":"EPISURG (worst) (20)","h":"Before fine-tuning","v":56.8,"p":3.904},
{"g":"EPISURG (worst) (20)","h":"Before fine-tuning","v":52.9,"p":3.777},
{"g":"EPISURG (worst) (20)","h":"Before fine-tuning","v":40.7,"p":3.741},
{"g":"EPISURG (worst) (20)","h":"Before fine-tuning","v":38.1,"p":3.892},
{"g":"EPISURG (worst) (20)","h":"Before fine-tuning","v":34.7,"p":3.680},
{"g":"EPISURG (worst) (20)","h":"Before fine-tuning","v":35.3,"p":3.871},
{"g":"EPISURG (worst) (20)","h":"Before fine-tuning","v":24.2,"p":3.708},
{"g":"EPISURG (worst) (20)","h":"Before fine-tuning","v":20.3,"p":3.914},
{"g":"EPISURG (worst) (20)","h":"Before fine-tuning","v":18.1,"p":3.874},
{"g":"EPISURG (worst) (20)","h":"Before fine-tuning","v":11.5,"p":3.715},
{"g":"EPISURG (worst) (20)","h":"Before fine-tuning","v":0,"p":3.696},
{"g":"EPISURG (worst) (20)","h":"Before fine-tuning","v":0,"p":3.720},
{"g":"EPISURG (worst) (20)","h":"Before fine-tuning","v":0,"p":3.774},
{"g":"EPISURG (worst) (20)","h":"Before fine-tuning","v":0,"p":3.831},
{"g":"EPISURG (worst) (20)","h":"Before fine-tuning","v":0,"p":3.885},
{"g":"EPISURG (worst) (20)","h":"Before fine-tuning","v":0,"p":3.892},
{"g":"EPISURG (worst) (20)","h":"Before fine-tuning","v":0,"p":3.702},
{"g":"EPISURG (worst) (20)","h":"Before fine-tuning","v":0,"p":3.827},
{"g":"EPISURG (worst) (20)","h":"After fine-tuning","v":83.7,"p":4.228},
{"g":"EPISURG (worst) (20)","h":"After fine-tuning","v":72.7,"p":4.238},
{"g":"EPISURG (worst) (20)","h":"After fine-tuning","v":66.7,"p":4.240},
{"g":"EPISURG (worst) (20)","h":"After fine-tuning","v":67.4,"p":4.275},
{"g":"EPISURG (worst) (20)","h":"After fine-tuning","v":63.4,"p":4.275},
{"g":"EPISURG (worst) (20)","h":"After fine-tuning","v":60.6,"p":4.204},
{"g":"EPISURG (worst) (20)","h":"After fine-tuning","v":59.3,"p":4.157},
{"g":"EPISURG (worst) (20)","h":"After fine-tuning","v":57.4,"p":4.117},
{"g":"EPISURG (worst) (20)","h":"After fine-tuning","v":54.9,"p":4.275},
{"g":"EPISURG (worst) (20)","h":"After fine-tuning","v":49.5,"p":4.247},
{"g":"EPISURG (worst) (20)","h":"After fine-tuning","v":47.2,"p":4.176},
{"g":"EPISURG (worst) (20)","h":"After fine-tuning","v":43.5,"p":4.252},
{"g":"EPISURG (worst) (20)","h":"After fine-tuning","v":37.2,"p":4.103},
{"g":"EPISURG (worst) (20)","h":"After fine-tuning","v":22.0,"p":4.223},
{"g":"EPISURG (worst) (20)","h":"After fine-tuning","v":12.7,"p":4.143},
{"g":"EPISURG (worst) (20)","h":"After fine-tuning","v":1.9,"p":4.252},
{"g":"EPISURG (worst) (20)","h":"After fine-tuning","v":0,"p":4.091},
{"g":"EPISURG (worst) (20)","h":"After fine-tuning","v":0,"p":4.181},
{"g":"EPISURG (worst) (20)","h":"After fine-tuning","v":0,"p":4.195},
{"g":"EPISURG (worst) (20)","h":"After fine-tuning","v":0,"p":4.186}
]
},
"data": {"name": "d"},
"encoding": {
  "y": {"field": "v", "type": "quantitative",
        "scale": {"domain": [-4.9, 103], "nice": false, "zero": false},
        "axis": {"title": "Dice score", "values": [0,20,40,60,80,100], "grid": true, "gridColor": "#d6d6d6", "gridWidth": 1.2,
                 "domain": false, "ticks": false, "labelPadding": 12, "labelFontSize": 13.5, "labelColor": "#262626",
                 "titleFontSize": 15.3, "titleFontWeight": "normal", "titleColor": "#262626", "titlePadding": 9}}
},
"layer": [
  {
    "mark": {"type": "boxplot", "extent": 1.5, "outliers": false, "size": 55, "color": "white",
             "box": {"fill": "white", "stroke": "#474747", "strokeWidth": 2},
             "median": {"color": "#474747", "thickness": 2, "opacity": 1},
             "rule": {"color": "#474747", "strokeWidth": 2, "opacity": 1},
             "ticks": {"color": "#474747", "thickness": 2, "size": 28, "opacity": 1}},
    "encoding": {
      "x": {"field": "g", "type": "nominal",
            "sort": ["Milan (20)","Paris (19)","Strasbourg (33)","EPISURG (133)","EPISURG (worst) (20)"],
            "scale": {"paddingInner": 0, "paddingOuter": 0},
            "axis": {"title": "Dataset for fine-tuning", "labelAngle": 0, "domain": true, "domainColor": "#cccccc", "domainWidth": 1.2,
                     "ticks": false, "grid": false, "labelPadding": 7, "labelFontSize": 14, "labelColor": "#262626",
                     "titleFontSize": 15.3, "titleFontWeight": "normal", "titleColor": "#262626", "titlePadding": 6}},
      "xOffset": {"field": "h", "type": "nominal", "sort": ["Before fine-tuning","After fine-tuning"],
                  "scale": {"paddingInner": 0.04, "paddingOuter": 0.25}}
    }
  },
  {
    "mark": {"type": "circle", "size": 42, "opacity": 0.55, "strokeWidth": 0},
    "encoding": {
      "x": {"field": "p", "type": "quantitative", "scale": {"domain": [-0.5, 4.5], "nice": false, "zero": false}, "axis": null},
      "color": {"field": "h", "type": "nominal",
                "scale": {"domain": ["Before fine-tuning","After fine-tuning"], "range": ["#4c72b0","#dd8452"]},
                "legend": {"title": null, "orient": "none", "legendX": 562, "legendY": 1,
                           "fillColor": "white", "strokeColor": "#d5d5d5", "cornerRadius": 3, "padding": 7,
                           "symbolType": "circle", "symbolSize": 160, "symbolOpacity": 1, "symbolStrokeWidth": 0,
                           "labelFontSize": 14.5, "labelColor": "#262626", "labelOffset": 19, "rowPadding": 4, "labelLimit": 300}}
    }
  }
],
"resolve": {"scale": {"x": "independent"}}
}
